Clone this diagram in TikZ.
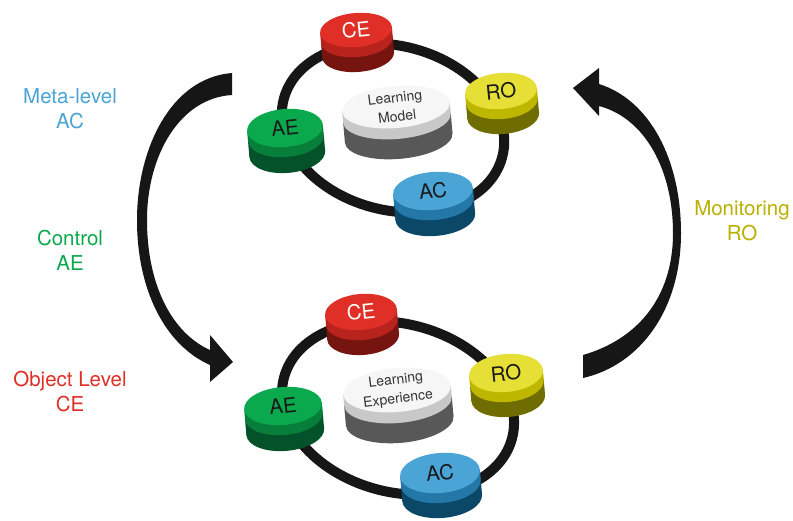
\documentclass[tikz,border=0pt]{standalone}
\usepackage{fontspec}
\setmainfont{TeX Gyre Heros}

% palettes: top face, upper band, lower band
\definecolor{ceTop}{HTML}{DF2F26}\definecolor{ceMid}{HTML}{B8241D}\definecolor{ceDark}{HTML}{761510}
\definecolor{roTop}{HTML}{E6DF35}\definecolor{roMid}{HTML}{BDB700}\definecolor{roDark}{HTML}{6F6C00}
\definecolor{aeTop}{HTML}{0BA94D}\definecolor{aeMid}{HTML}{077E39}\definecolor{aeDark}{HTML}{04522A}
\definecolor{acTop}{HTML}{4AA4D6}\definecolor{acMid}{HTML}{2378A8}\definecolor{acDark}{HTML}{0B4868}
\definecolor{lmTop}{HTML}{F6F6F6}\definecolor{lmMid}{HTML}{C8C8C8}\definecolor{lmDark}{HTML}{585858}
\definecolor{ringC}{HTML}{161616}
\definecolor{arrowC}{HTML}{161616}
\definecolor{metaC}{HTML}{4AA4D6}
\definecolor{ctrlC}{HTML}{0BA94D}
\definecolor{objC}{HTML}{DF2F26}
\definecolor{monC}{HTML}{BAB000}

% a stacked disc seen from above
\newcommand\drawdisc[8]{%
  \begin{scope}[shift={#1}, rotate=5]
    \fill[#6Dark] (0,#4) ellipse [x radius=#2pt, y radius=#3pt];
    \fill[#6Dark] (-#2,#5) rectangle (#2,#4);
    \fill[#6Mid] (0,#5) ellipse [x radius=#2pt, y radius=#3pt];
    \fill[#6Mid] (-#2,0) rectangle (#2,#5);
    \fill[#6Top] (0,0) ellipse [x radius=#2pt, y radius=#3pt];
    \node[#6Text] (#7) at (0,0) {#8};
  \end{scope}}

\begin{document}
\begin{tikzpicture}[x=1pt, y=-1pt,
  ring/.style={draw=ringC, line width=10pt},
  bigarrow/.style={fill=arrowC},
  discfont/.style={font=\fontsize{20.5}{23}\selectfont, inner sep=0pt, rotate=6},
  ceText/.style={discfont, text=white},
  roText/.style={discfont, text=black!90},
  aeText/.style={discfont, text=black!90},
  acText/.style={discfont, text=black!90},
  lmText/.style={font=\fontsize{14}{19}\selectfont, text=black!80, align=center, inner sep=0pt, rotate=7},
  side/.style={font=\fontsize{20.5}{25}\selectfont, align=center, inner sep=0pt}]

\fill[white] (0,0) rectangle (793,520);
\useasboundingbox (0,0) rectangle (793,520);

% side captions
\node[side, text=metaC] (meta) at (70,109) {Meta-level\\AC};
\node[side, text=ctrlC] (ctrl) at (70,250) {Control\\AE};
\node[side, text=objC]  (obj)  at (70,392) {Object Level\\CE};
\node[side, text=monC]  (mon)  at (742,221) {Monitoring\\RO};

% control arrow, meta level down to object level
\fill[bigarrow] (232,73) .. controls (170,78) and (137,150) .. (137,220)
  .. controls (137,290) and (165,345) .. (210,365) -- (210,382) -- (233,362)
  -- (210,335) -- (210,350) .. controls (172,333) and (147,285) .. (147,220)
  .. controls (147,155) and (180,98) .. (232,95) -- cycle;

% monitoring arrow, object level up to meta level
\fill[bigarrow] (583,378) .. controls (640,365) and (681,310) .. (681,233)
  .. controls (681,160) and (650,100) .. (599,84) -- (599,68) -- (573,88)
  -- (599,116) -- (599,106) .. controls (645,118) and (673,170) .. (673,233)
  .. controls (673,300) and (635,340) .. (583,355) -- cycle;

% meta level cycle
\draw[ring, rotate around={-15:(393,128)}] (393,128) ellipse [x radius=113pt, y radius=82pt];
\drawdisc{(356,30)}{36}{17}{25}{10}{ce}{mCE}{CE}
\drawdisc{(501,91)}{36}{18}{25}{10}{ro}{mRO}{RO}
\drawdisc{(396,107)}{54}{21}{31}{11}{lm}{mLM}{Learning\\Model}
\drawdisc{(285,128)}{38}{19}{26}{10}{ae}{mAE}{AE}
\drawdisc{(433,191)}{40}{19}{26}{10}{ac}{mAC}{AC}

% object level cycle
\draw[ring, rotate around={-15:(398,408)}] (398,408) ellipse [x radius=118pt, y radius=84pt];
\drawdisc{(361,312)}{36}{18}{25}{10}{ce}{oCE}{CE}
\drawdisc{(506,373)}{37}{19}{25}{10}{ro}{oRO}{RO}
\drawdisc{(397,390)}{54}{22}{31}{11}{lm}{oLE}{Learning\\Experience}
\drawdisc{(283,406)}{39}{19}{26}{10}{ae}{oAE}{AE}
\drawdisc{(440,473)}{40}{20}{25}{10}{ac}{oAC}{AC}

\end{tikzpicture}
\end{document}
